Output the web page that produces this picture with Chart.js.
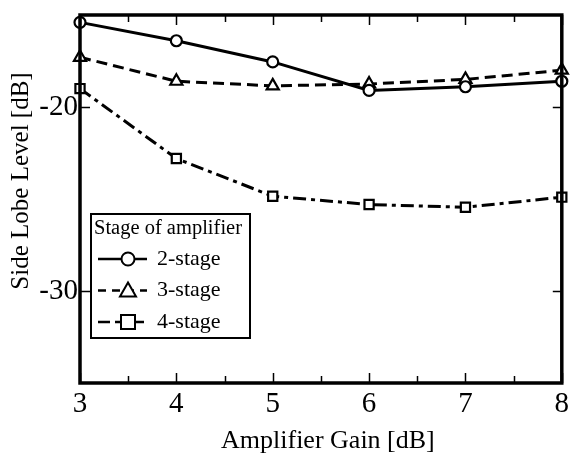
<!DOCTYPE html>
<html lang="en">
<head>
<meta charset="UTF-8" />
<title>Side Lobe Level vs Amplifier Gain</title>
<style>
  body { margin: 0; padding: 0; background: #fff; }
  #wrap { position: relative; width: 571px; height: 456px; }
</style>
</head>
<body>
<div id="wrap">
  <canvas id="slChart" width="571" height="456"></canvas>
</div>

<script src="https://cdn.jsdelivr.net/npm/chart.js"></script>
<script>
// Data
const gains = [3, 4, 5, 6, 7, 8];
const stage2 = [-15.4, -16.4, -17.55, -19.1, -18.9, -18.6];
const stage3 = [-17.3, -18.6, -18.85, -18.75, -18.5, -18.0];
const stage4 = [-19.0, -22.8, -24.85, -25.3, -25.45, -24.9];
const yTickValues = [-30, -20];
const seriesLabels = ['2-stage', '3-stage', '4-stage'];
const legendTitle = 'Stage of amplifier';
const xTitle = 'Amplifier Gain [dB]';
const yTitle = 'Side Lobe Level [dB]';

const SERIF = "'Liberation Serif', 'DejaVu Serif', serif";

function toXY(ys) {
  return gains.map((g, i) => ({ x: g, y: ys[i] }));
}

const styles = [
  { dash: [], point: 'circle', radius: 5.5 },
  { dash: [11, 6], point: 'triangle', radius: 7 },
  { dash: [13, 5, 4, 5], point: 'rect', radius: 6.5 }
];

const datasets = [stage2, stage3, stage4].map((ys, i) => ({
  label: seriesLabels[i],
  data: toXY(ys),
  borderColor: '#000',
  borderWidth: 3,
  borderDash: styles[i].dash,
  backgroundColor: '#fff',
  pointStyle: styles[i].point,
  pointRadius: styles[i].radius,
  pointBorderWidth: 2.2,
  pointBorderColor: '#000',
  pointBackgroundColor: '#fff',
  tension: 0,
  clip: false
}));

// frame + inward tick marks
const framePlugin = {
  id: 'frame',
  afterDatasetsDraw(chart) {
    const { ctx, chartArea: a, scales } = chart;
    ctx.save();
    ctx.strokeStyle = '#000';
    ctx.lineWidth = 1.5;
    // x ticks: major at integers, minor at halves
    for (let v = gains[0]; v <= gains[gains.length - 1] + 1e-6; v += 0.5) {
      const px = Math.round(scales.x.getPixelForValue(v)) + 0.5;
      const len = Number.isInteger(v) ? 10 : 7;
      ctx.beginPath();
      ctx.moveTo(px, a.bottom); ctx.lineTo(px, a.bottom - len);
      ctx.moveTo(px, a.top); ctx.lineTo(px, a.top + len);
      ctx.stroke();
    }
    yTickValues.forEach(v => {
      const py = Math.round(scales.y.getPixelForValue(v)) + 0.5;
      ctx.beginPath();
      ctx.moveTo(a.left, py); ctx.lineTo(a.left + 10, py);
      ctx.moveTo(a.right, py); ctx.lineTo(a.right - 9, py);
      ctx.stroke();
    });
    ctx.lineWidth = 3.5;
    ctx.strokeRect(a.left, a.top, a.right - a.left, a.bottom - a.top);
    ctx.restore();
  }
};

// axis titles, placed a little off-centre like the original figure
const titlesPlugin = {
  id: 'axisTitles',
  afterDraw(chart) {
    const { ctx, chartArea: a } = chart;
    const cx = (a.left + a.right) / 2, cy = (a.top + a.bottom) / 2;
    ctx.save();
    ctx.fillStyle = '#000';
    ctx.textAlign = 'center';
    ctx.textBaseline = 'middle';
    ctx.font = '26px ' + SERIF;
    ctx.fillText(xTitle, cx + 7, 441);
    ctx.font = '25px ' + SERIF;
    ctx.translate(21, cy - 18);
    ctx.rotate(-Math.PI / 2);
    ctx.fillText(yTitle, 0, 0);
    ctx.restore();
  }
};

// legend box drawn inside the plot area
function drawMarker(ctx, kind, x, y) {
  ctx.beginPath();
  if (kind === 'circle') {
    ctx.arc(x, y, 6.5, 0, Math.PI * 2);
  } else if (kind === 'triangle') {
    ctx.moveTo(x, y - 8); ctx.lineTo(x + 8, y + 6); ctx.lineTo(x - 8, y + 6); ctx.closePath();
  } else {
    ctx.rect(x - 7, y - 7, 14, 14);
  }
  ctx.fillStyle = '#fff';
  ctx.fill();
  ctx.stroke();
}

const legendPlugin = {
  id: 'boxLegend',
  afterDraw(chart) {
    const { ctx, chartArea: a } = chart;
    const bx = a.left + 11, by = 214, bw = 159, bh = 124;
    ctx.save();
    ctx.fillStyle = '#fff';
    ctx.fillRect(bx, by, bw, bh);
    ctx.strokeStyle = '#000';
    ctx.lineWidth = 2;
    ctx.strokeRect(bx, by, bw, bh);
    ctx.fillStyle = '#000';
    ctx.font = '20.5px ' + SERIF;
    ctx.textBaseline = 'middle';
    ctx.fillText(legendTitle, bx + 3, by + 15);
    datasets.forEach((ds, i) => {
      const ry = by + 45 + i * 31.5;
      ctx.lineWidth = 2.5;
      ctx.setLineDash(i === 0 ? [] : (i === 1 ? [8, 6] : [12, 5]));
      ctx.beginPath();
      ctx.moveTo(bx + 7, ry); ctx.lineTo(bx + 56, ry);
      ctx.stroke();
      ctx.setLineDash([]);
      ctx.lineWidth = 2;
      drawMarker(ctx, ds.pointStyle, bx + 37, ry);
      ctx.fillStyle = '#000';
      ctx.font = '22px ' + SERIF;
      ctx.fillText(ds.label, bx + 66, ry);
    });
    ctx.restore();
  }
};

new Chart(document.getElementById('slChart').getContext('2d'), {
  type: 'line',
  data: { datasets },
  options: {
    responsive: false,
    animation: false,
    layout: { padding: { top: 15, right: 0, left: 0, bottom: 0 } },
    plugins: { legend: { display: false }, tooltip: { enabled: false } },
    scales: {
      x: {
        type: 'linear',
        min: 3, max: 8,
        afterBuildTicks: s => { s.ticks = gains.map(v => ({ value: v })); },
        afterFit: s => { s.height = 73; s.paddingLeft = 0; s.paddingRight = 0; },
        grid: { display: false, drawTicks: false },
        border: { display: false },
        ticks: { color: '#000', padding: 4, font: { family: SERIF, size: 29 } },
        title: { display: false }
      },
      y: {
        type: 'linear',
        min: -35, max: -15,
        afterBuildTicks: s => { s.ticks = yTickValues.map(v => ({ value: v })); },
        afterFit: s => { s.width = 80; s.paddingTop = 0; s.paddingBottom = 0; },
        grid: { display: false, drawTicks: false },
        border: { display: false },
        ticks: { color: '#000', padding: 2, font: { family: SERIF, size: 29 } },
        title: { display: false }
      }
    }
  },
  plugins: [framePlugin, titlesPlugin, legendPlugin]
});
</script>
</body>
</html>
